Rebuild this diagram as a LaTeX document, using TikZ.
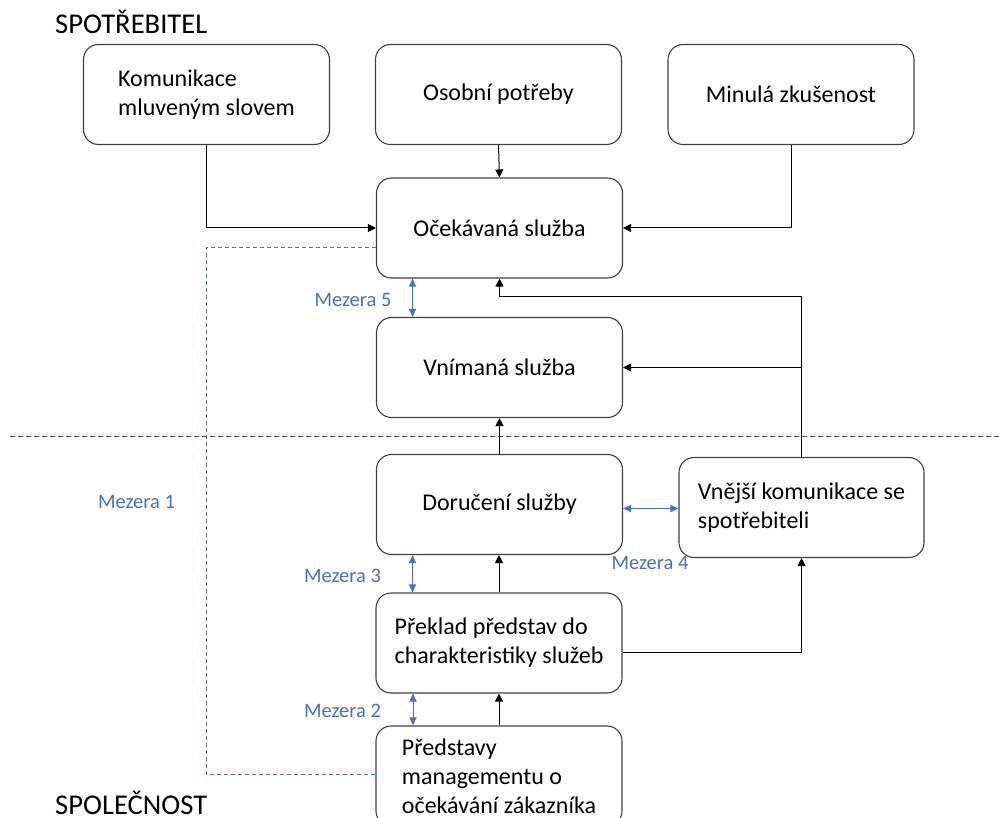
\documentclass[tikz,border=0pt]{standalone}
\usepackage{fontspec}
\setmainfont{Carlito}
\usetikzlibrary{arrows.meta}
\definecolor{gapblue}{HTML}{4472C4}
\definecolor{frame}{HTML}{404040}
\definecolor{sepgray}{HTML}{555555}
\begin{document}
\begin{tikzpicture}[x=1pt,y=-1pt,
  box/.style={draw=frame, line width=1.1pt, rounded corners=15pt,
    minimum width=246pt, minimum height=100pt, inner sep=0pt,
    font=\fontsize{24}{29}\selectfont},
  arr/.style={draw=black, line width=1pt, -{Triangle[length=8pt,width=8pt]}},
  gaparr/.style={draw=gapblue, line width=1pt,
    {Triangle[length=8pt,width=7pt]}-{Triangle[length=8pt,width=7pt]}},
  gaplabel/.style={text=gapblue, inner sep=0pt, font=\fontsize{20.5}{24}\selectfont},
  header/.style={inner sep=0pt, font=\fontsize{28.6}{34}\selectfont},
  gapline/.style={draw=gapblue, line width=1pt, dash pattern=on 4pt off 3pt},
  sepline/.style={draw=sepgray, line width=0.9pt, dash pattern=on 5pt off 3pt}
]
\useasboundingbox (0,0) rectangle (999,818);

% headers
\node[header, anchor=base west] (cons) at (55,34) {SPOTŘEBITEL};
\node[header, anchor=base west] (comp) at (55,814) {SPOLEČNOST};

% customer side
\node[box, align=left] (kom) at (206.5,94.5) {Komunikace\\mluveným slovem};
\node[box] (oso) at (498.5,94.5) {Osobní potřeby};
\node[box] (min) at (791,94.5) {Minulá zkušenost};
\node[box] (oce) at (499.5,228) {Očekávaná služba};
\node[box] (vni) at (499.5,367.5) {Vnímaná služba};

% separator between customer and company
\draw[sepline] (10,436) -- (999,436);

% company side
\node[box] (dor) at (499.5,504.5) {Doručení služby};
\node[box, align=left, minimum width=245pt] (vne) at (801.5,507.5) {Vnější komunikace se\\spotřebiteli};
\node[box, align=left] (pre) at (499,643) {Překlad představ do\\charakteristiky služeb};
\node[box, align=left] (mgm) at (499,776) {Představy\\managementu o\\očekávání zákazníka};

% influences on expected service
\draw[arr] (kom.south) |- (oce.west);
\draw[arr] (oso.south) -- (oce.north);
\draw[arr] (min.south) |- (oce.east);

% external communication feeds expectations and perception
\coordinate (ext) at (499.5,297);
\draw[arr] (vne.north) |- (ext) -- (oce.south);
\draw[arr] (vne.north |- vni.east) -- (vni.east);

% company chain
\draw[arr] (mgm.north) -- (pre.south);
\draw[arr] (pre.north) -- (dor.south -| pre.north);
\draw[arr] (dor.north) -- (vni.south);
\draw[arr] ([yshift=-9pt]pre.east) -| (vne.south);

% gaps
\draw[gaparr] ([xshift=-87pt]oce.south) -- ([xshift=-87pt]vni.north);
\node[gaplabel] (g5) at (353,300) {Mezera 5};

\draw[gaparr] ([yshift=-4pt]dor.east) -- ([yshift=-4pt]dor.east -| vne.west);
\node[gaplabel] (g4) at (650,563) {Mezera 4};

\draw[gaparr] ([xshift=-87pt]dor.south) -- ([xshift=-87pt]dor.south |- pre.north);
\node[gaplabel] (g3) at (342.5,576) {Mezera 3};

\draw[gaparr] ([xshift=-86pt]pre.south) -- ([xshift=-86pt]pre.south |- mgm.north);
\node[gaplabel] (g2) at (342.5,711) {Mezera 2};

\coordinate (g1a) at (206,248);
\coordinate (g1b) at (206,774);
\draw[gapline] (oce.west |- g1a) -- (g1a) -- (g1b) -- (g1b -| mgm.west);
\node[gaplabel] (g1) at (136.5,502) {Mezera 1};

\end{tikzpicture}
\end{document}
